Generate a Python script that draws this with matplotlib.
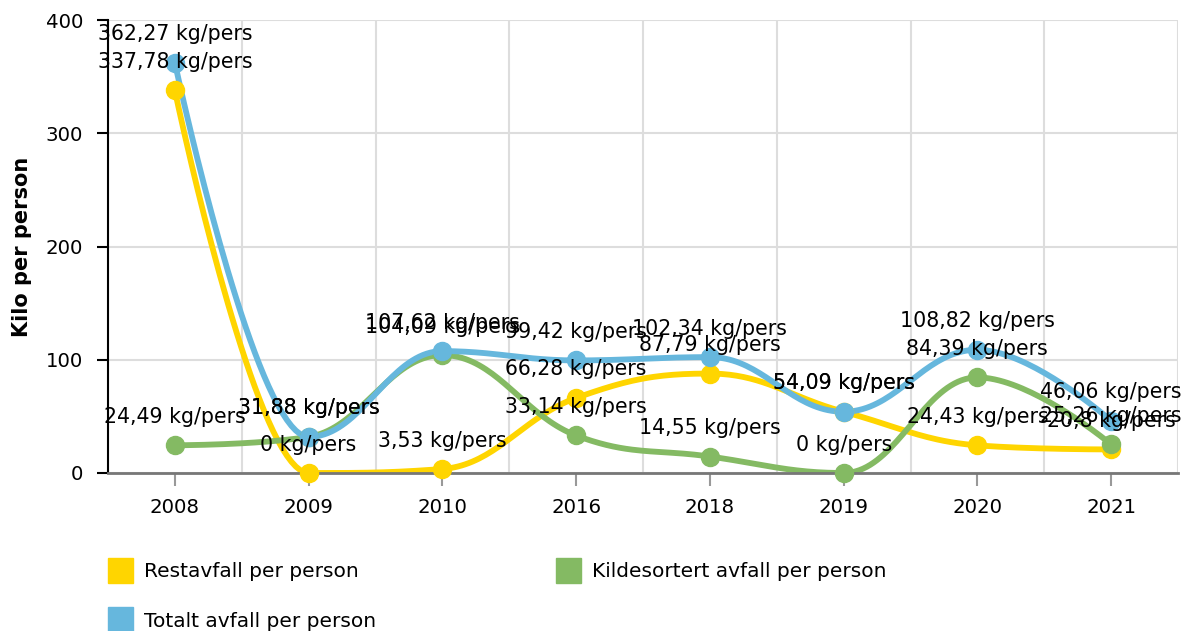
import numpy as np
import matplotlib.pyplot as plt
from matplotlib.patches import Patch

# data
years = ['2008', '2009', '2010', '2016', '2018', '2019', '2020', '2021']
restavfall = [337.78, 0, 3.53, 66.28, 87.79, 54.09, 24.43, 20.8]
kildesortert = [24.49, 31.88, 104.09, 33.14, 14.55, 0, 84.39, 25.26]
totalt = [362.27, 31.88, 107.62, 99.42, 102.34, 54.09, 108.82, 46.06]

series_names = ['Restavfall per person', 'Kildesortert avfall per person',
                'Totalt avfall per person']
colors = ['#FFD500', '#84BA63', '#66B7DD']

W, H = 1186, 631
fig = plt.figure(figsize=(W / 100, H / 100), dpi=100)
ax = fig.add_axes([108 / W, 1 - 473 / H, 1070 / W, 453 / H])

x = np.arange(len(years))
ax.set_xlim(-0.5, len(years) - 0.5)
ax.set_ylim(0, 400)


def spline(xs, ys, smoothing=1.5, n=40):
    """Smoothed curve, control points flattened at local extremes."""
    xs = np.asarray(xs, float)
    ys = np.asarray(ys, float)
    m = len(xs)
    left = [(xs[i], ys[i]) for i in range(m)]
    right = [(xs[i], ys[i]) for i in range(m)]
    d = smoothing + 1
    for i in range(1, m - 1):
        lx, ly = xs[i - 1], ys[i - 1]
        px, py = xs[i], ys[i]
        nx, ny = xs[i + 1], ys[i + 1]
        lcx, lcy = (smoothing * px + lx) / d, (smoothing * py + ly) / d
        rcx, rcy = (smoothing * px + nx) / d, (smoothing * py + ny) / d
        corr = (rcy - lcy) * (rcx - px) / (rcx - lcx) + py - rcy
        lcy += corr
        rcy += corr
        if lcy > ly and lcy > py:
            lcy = max(ly, py)
            rcy = 2 * py - lcy
        elif lcy < ly and lcy < py:
            lcy = min(ly, py)
            rcy = 2 * py - lcy
        if rcy > ny and rcy > py:
            rcy = max(ny, py)
            lcy = 2 * py - rcy
        elif rcy < ny and rcy < py:
            rcy = min(ny, py)
            lcy = 2 * py - rcy
        left[i] = (lcx, lcy)
        right[i] = (rcx, rcy)
    t = np.linspace(0, 1, n)[1:, None]
    out = [np.array([xs[0], ys[0]])]
    for i in range(m - 1):
        p0 = np.array([xs[i], ys[i]])
        p1 = np.array(right[i])
        p2 = np.array(left[i + 1])
        p3 = np.array([xs[i + 1], ys[i + 1]])
        seg = ((1 - t) ** 3 * p0 + 3 * (1 - t) ** 2 * t * p1
               + 3 * (1 - t) * t ** 2 * p2 + t ** 3 * p3)
        out.extend(seg)
    out = np.array(out)
    return out[:, 0], out[:, 1]


def fmt(v):
    s = f'{v:.2f}'.rstrip('0').rstrip('.')
    return s.replace('.', ',') + ' kg/pers'


for k, (vals, col) in enumerate(zip([restavfall, kildesortert, totalt], colors)):
    sx, sy = spline(x, vals)
    ax.plot(sx, sy, color=col, lw=4.2, solid_capstyle='round', zorder=3 + k)
    ax.plot(x, vals, 'o', color=col, ms=13, zorder=13 + k, clip_on=False)
    for xi, v in zip(x, vals):
        ax.annotate(fmt(v), (xi, v), xytext=(0, 20.5), textcoords='offset points',
                    ha='center', va='center', fontsize=14.8, zorder=20,
                    annotation_clip=False)

# axes styling
ax.set_yticks([0, 100, 200, 300, 400])
ax.set_xticks(x)
ax.set_xticklabels(years)
ax.set_xticks(np.arange(-0.5, len(years)), minor=True)
ax.grid(True, which='major', axis='y', color='#dddddd', lw=1.5)
ax.grid(True, which='minor', axis='x', color='#dddddd', lw=1.5)
ax.set_axisbelow(True)
ax.tick_params(axis='x', which='minor', length=0)
ax.tick_params(axis='x', which='major', length=9, width=1.5, color='#999999',
               labelsize=14.2, pad=9)
ax.tick_params(axis='y', length=8, width=1.5, color='black', labelsize=14.2, pad=10)
for s in ['top', 'right']:
    ax.spines[s].set_visible(False)
ax.spines['left'].set_color('black')
ax.spines['left'].set_linewidth(1.5)
ax.spines['bottom'].set_color('#777777')
ax.spines['bottom'].set_linewidth(2)
ax.spines['bottom'].set_zorder(12)

ax.set_ylabel('Kilo per person', fontsize=15, fontweight='bold')
ax.yaxis.set_label_coords(-0.071, 0.5)

handles = [Patch(color=colors[0], label=series_names[0]),
           Patch(color=colors[2], label=series_names[2]),
           Patch(color=colors[1], label=series_names[1])]
fig.legend(handles=handles, loc='upper left', bbox_to_anchor=(108 / W, 1 - 558 / H),
           ncol=2, frameon=False, fontsize=14.5, borderpad=0, borderaxespad=0,
           handlelength=1.25, handleheight=1.55, handletextpad=0.55,
           labelspacing=1.2, columnspacing=8.9)

fig.savefig('out.png', dpi=100)
